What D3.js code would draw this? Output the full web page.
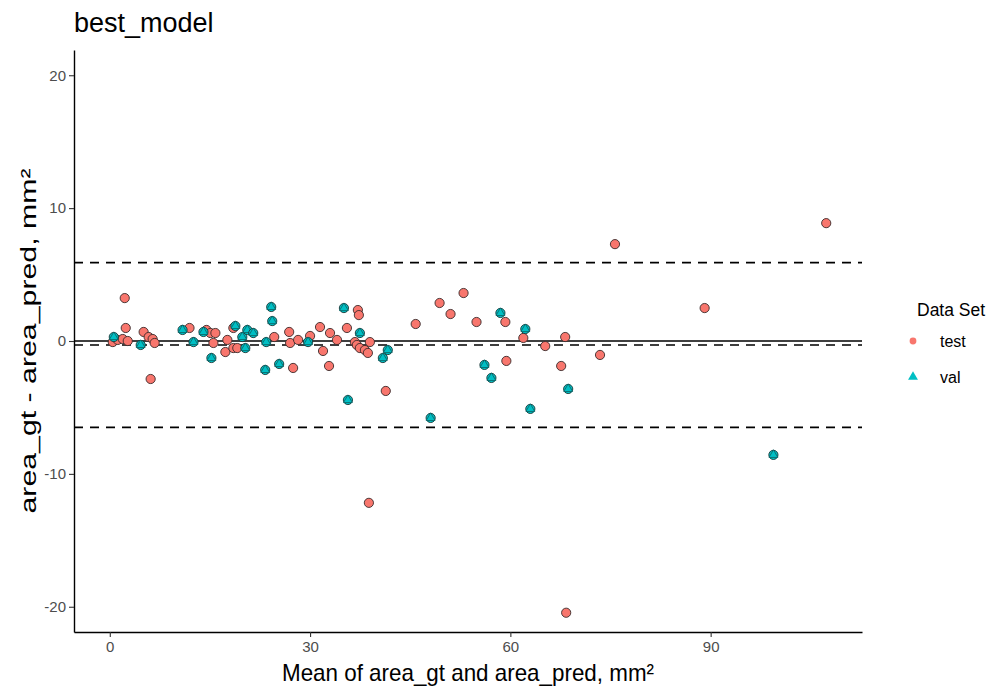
<!DOCTYPE html>
<html>
<head>
<meta charset="utf-8">
<script src="https://cdn.jsdelivr.net/npm/d3@7"></script>
<style>
  body { margin: 0; background: #fff; }
  text { font-family: "Liberation Sans", Arial, sans-serif; }
</style>
</head>
<body>
<svg id="chart"></svg>
<script>
// Bland-Altman data: mean of gt/pred (x) and difference (y)
var testMean = [0.45, 1.19, 1.94, 2.69, 2.24, 2.39, 5.07, 5.82, 6.42, 6.72, 6.12, 11.94, 14.48, 15.07, 15.82, 15.52,
  17.61, 17.31, 18.51, 18.51, 19.10, 24.63, 26.87, 27.01, 28.21, 30.0, 27.46, 31.49, 32.99, 34.03, 31.94, 32.84,
  35.52, 37.16, 37.31, 36.72, 37.01, 37.46, 38.21, 38.66, 38.96, 41.34, 38.81, 45.82, 49.40, 51.04, 52.99, 54.93,
  59.25, 59.40, 61.94, 65.22, 68.21, 67.61, 68.36, 73.43, 75.67, 89.10, 107.31];
var testDiff = [-0.08, 0.08, 0.15, 0.0, 3.23, 0.98, 0.68, 0.30, 0.15, -0.15, -2.86, 0.98, 0.83, 0.60, 0.60, -0.15,
  0.08, -0.83, 0.98, -0.53, -0.53, 0.30, 0.68, -0.15, 0.08, 0.38, -2.03, 1.05, 0.60, 0.08, -0.75, -1.88,
  0.98, 2.33, 1.95, -0.08, -0.30, -0.53, -0.68, -0.90, -0.08, -3.76, -12.18, 1.28, 2.86, 2.03, 3.61, 1.43,
  1.43, -1.50, 0.23, -0.38, 0.30, -1.88, -20.45, -1.05, 7.29, 2.48, 8.87];

var valMean = [0.60, 4.63, 10.90, 12.54, 14.03, 15.22, 18.81, 19.85, 20.30, 20.60, 21.49, 23.28, 23.43, 24.18, 24.33,
  25.37, 29.70, 35.07, 35.67, 37.46, 41.64, 40.90, 48.06, 56.12, 57.16, 58.51, 62.24, 62.99, 68.66, 99.40];
var valDiff = [0.30, -0.30, 0.83, -0.08, 0.68, -1.28, 1.13, 0.30, -0.53, 0.83, 0.60, -2.18, -0.08, 2.56, 1.50,
  -1.73, -0.08, 2.48, -4.44, 0.60, -0.68, -1.28, -5.79, -1.80, -2.78, 2.11, 0.90, -5.11, -3.61, -8.57];

var meanDiff = -0.3;
var upperLoA = 5.9;
var lowerLoA = -6.5;

var xTicks = [0, 30, 60, 90];
var yTicks = [-20, -10, 0, 10, 20];
var groups = ["test", "val"];
var colors = ["#F8766D", "#00BFC4"];

var W = 987, H = 689;
var margin = {top: 50, right: 125, bottom: 57, left: 74},
    width = W - margin.left - margin.right,
    height = H - margin.top - margin.bottom;

var svg = d3.select("#chart").attr("width", W).attr("height", H);
var g = svg.append("g").attr("transform", "translate(" + margin.left + "," + margin.top + ")");

var x = d3.scaleLinear().domain([-5.36, 112.67]).range([0, width]);
var y = d3.scaleLinear().domain([-21.9, 21.9]).range([height, 0]);

// reference lines
g.append("line")
  .attr("x1", 0).attr("x2", width)
  .attr("y1", y(0)).attr("y2", y(0))
  .attr("stroke", "#000").attr("stroke-width", 1.6);

[upperLoA, meanDiff, lowerLoA].forEach(function(v) {
  g.append("line")
    .attr("x1", 0).attr("x2", width)
    .attr("y1", y(v)).attr("y2", y(v))
    .attr("stroke", "#000").attr("stroke-width", 1.6)
    .attr("stroke-dasharray", "9,7");
});

// points
var testData = testMean.map(function(m, i) { return {x: m, y: testDiff[i]}; });
var valData = valMean.map(function(m, i) { return {x: m, y: valDiff[i]}; });

g.selectAll(".test").data(testData).enter().append("circle")
  .attr("class", "test")
  .attr("cx", function(d) { return x(d.x); })
  .attr("cy", function(d) { return y(d.y); })
  .attr("r", 4.6)
  .attr("fill", colors[0])
  .attr("stroke", "#3a2a2a").attr("stroke-width", 0.9);

var tri = d3.symbol().type(d3.symbolTriangle).size(34);
var vg = g.selectAll(".val").data(valData).enter().append("g")
  .attr("class", "val")
  .attr("transform", function(d) { return "translate(" + x(d.x) + "," + y(d.y) + ")"; });
vg.append("circle")
  .attr("r", 4.6)
  .attr("fill", colors[1])
  .attr("stroke", "#1a3535").attr("stroke-width", 0.9);
vg.append("path")
  .attr("d", tri)
  .attr("fill", colors[1])
  .attr("stroke", "#0b5f61").attr("stroke-width", 0.8);

// axes (plain hyphen for negatives, like R)
var fmt = function(d) { return String(d); };
var xAxis = g.append("g")
  .attr("transform", "translate(0," + height + ")")
  .call(d3.axisBottom(x).tickValues(xTicks).tickFormat(fmt).tickSize(5).tickSizeOuter(0).tickPadding(4));
var yAxis = g.append("g")
  .call(d3.axisLeft(y).tickValues(yTicks).tickFormat(fmt).tickSize(5).tickSizeOuter(0).tickPadding(3));

[xAxis, yAxis].forEach(function(a) {
  a.select(".domain").attr("stroke", "#000").attr("stroke-width", 1.4);
  a.selectAll(".tick line").attr("stroke", "#333").attr("stroke-width", 1.1);
  a.selectAll(".tick text").attr("fill", "#4d4d4d").attr("font-size", 15)
    .style("font-family", "Liberation Sans, Arial, sans-serif");
});

// titles
svg.append("text")
  .attr("x", margin.left).attr("y", 32)
  .attr("font-size", 27).attr("fill", "#000")
  .text("best_model");

svg.append("text")
  .attr("x", margin.left + width / 2).attr("y", 681)
  .attr("text-anchor", "middle")
  .attr("font-size", 24).attr("fill", "#000")
  .attr("textLength", 372).attr("lengthAdjust", "spacingAndGlyphs")
  .text("Mean of area_gt and area_pred, mm²");

svg.append("text")
  .attr("transform", "translate(36," + (margin.top + height / 2) + ") rotate(-90)")
  .attr("text-anchor", "middle")
  .attr("font-size", 22).attr("fill", "#000")
  .attr("textLength", 345).attr("lengthAdjust", "spacingAndGlyphs")
  .text("area_gt - area_pred, mm²");

// legend
var legend = svg.append("g").attr("transform", "translate(904,0)");
legend.append("text")
  .attr("x", 13).attr("y", 316)
  .attr("font-size", 17.5).attr("fill", "#000")
  .text("Data Set");

var keys = legend.selectAll(".key").data(groups).enter().append("g")
  .attr("transform", function(d, i) { return "translate(9," + (341 + i * 36) + ")"; });
keys.append("path")
  .attr("d", function(d, i) {
    return d3.symbol().type(i === 0 ? d3.symbolCircle : d3.symbolTriangle).size(i === 0 ? 36 : 42)();
  })
  .attr("fill", function(d, i) { return colors[i]; });
keys.append("text")
  .attr("x", 27).attr("y", 6)
  .attr("font-size", 16).attr("fill", "#000")
  .text(function(d) { return d; });
</script>
</body>
</html>
